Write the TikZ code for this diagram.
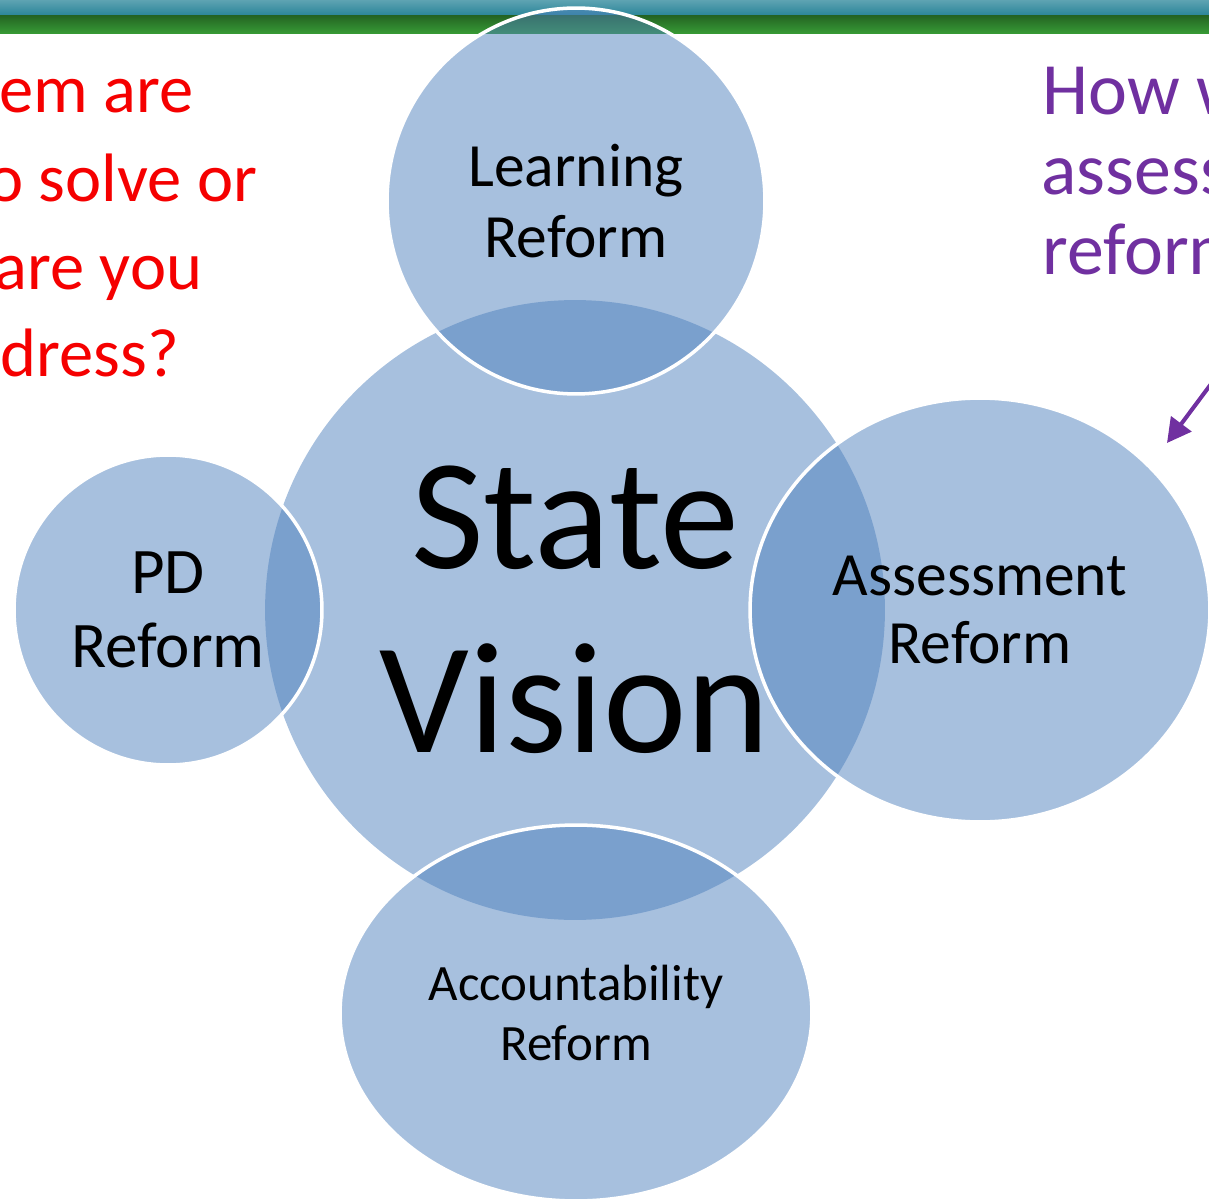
\documentclass[tikz,border=0pt]{standalone}
\usepackage{fontspec}
\setmainfont{Carlito}
\usetikzlibrary{shapes.geometric,arrows.meta}
\definecolor{vennblue}{RGB}{79,129,189}
\definecolor{bandteal}{RGB}{40,132,152}
\definecolor{bandgreen}{RGB}{56,156,54}
\definecolor{askpurple}{RGB}{112,48,160}
\definecolor{askred}{RGB}{245,0,0}

\begin{document}
\begin{tikzpicture}[
  x=0.02cm, y=-0.02cm,
  bubble/.style={ellipse, inner sep=0pt, fill=vennblue, fill opacity=0.5,
    text opacity=1, align=center},
  satellite/.style={bubble, draw=white, line width=2pt},
  question/.style={anchor=base west, inner sep=0pt,
    font=\fontsize{39}{50}\selectfont},
  >=Stealth
]
\useasboundingbox (0,0) rectangle (1209,1202);
\clip (0,0) rectangle (1209,1202);

% Header band
\shade[top color=bandteal!75!white, bottom color=bandteal] (0,0) rectangle (1209,16);
\shade[top color=bandgreen!65!black, bottom color=bandgreen] (0,16) rectangle (1209,34);

% Radial venn
\node[bubble, minimum width=12.4cm, minimum height=12.4cm] (vision) at (575,610) {};
\node[satellite, minimum width=7.56cm, minimum height=7.72cm,
  font=\fontsize{35}{40}\selectfont] (learning) at (576,201) {Learning\\Reform};
\node[satellite, minimum width=6.16cm, minimum height=6.2cm,
  font=\fontsize{37}{42.5}\selectfont] (pd) at (168,610) {PD\\Reform};
\node[satellite, minimum width=9.2cm, minimum height=8.48cm,
  font=\fontsize{35}{38.5}\selectfont] (assessment) at (980,610) {Assessment\\Reform};
\node[satellite, minimum width=9.44cm, minimum height=7.52cm,
  font=\fontsize{29}{34}\selectfont] (accountability) at (576,1013) {Accountability\\Reform};
\node[align=center, font=\fontsize{90}{105}\selectfont] (visionlabel) at (vision.center) {State\\Vision};

% Side questions
\foreach \txt/\xx/\yy [count=\i] in {em are/-1/113, o solve or/-13/202, are you/-6/290, dress?/0/377}
  \node[question, text=askred] (problem\i) at (\xx,\yy) {\txt};
\foreach \txt/\xx/\yy [count=\i] in {How w/1042/115, assess/1041/195, reform/1042/275}
  \node[question, text=askpurple, font=\fontsize{42}{48}\selectfont] (howwill\i) at (\xx,\yy) {\txt};

\coordinate (hintstart) at (1214,380);
\coordinate (hinttip) at (1167,443);
\draw[-{Triangle[length=0.48cm,width=0.5cm]}, askpurple, line width=2.3pt] (hintstart) -- (hinttip);

\end{tikzpicture}
\end{document}
